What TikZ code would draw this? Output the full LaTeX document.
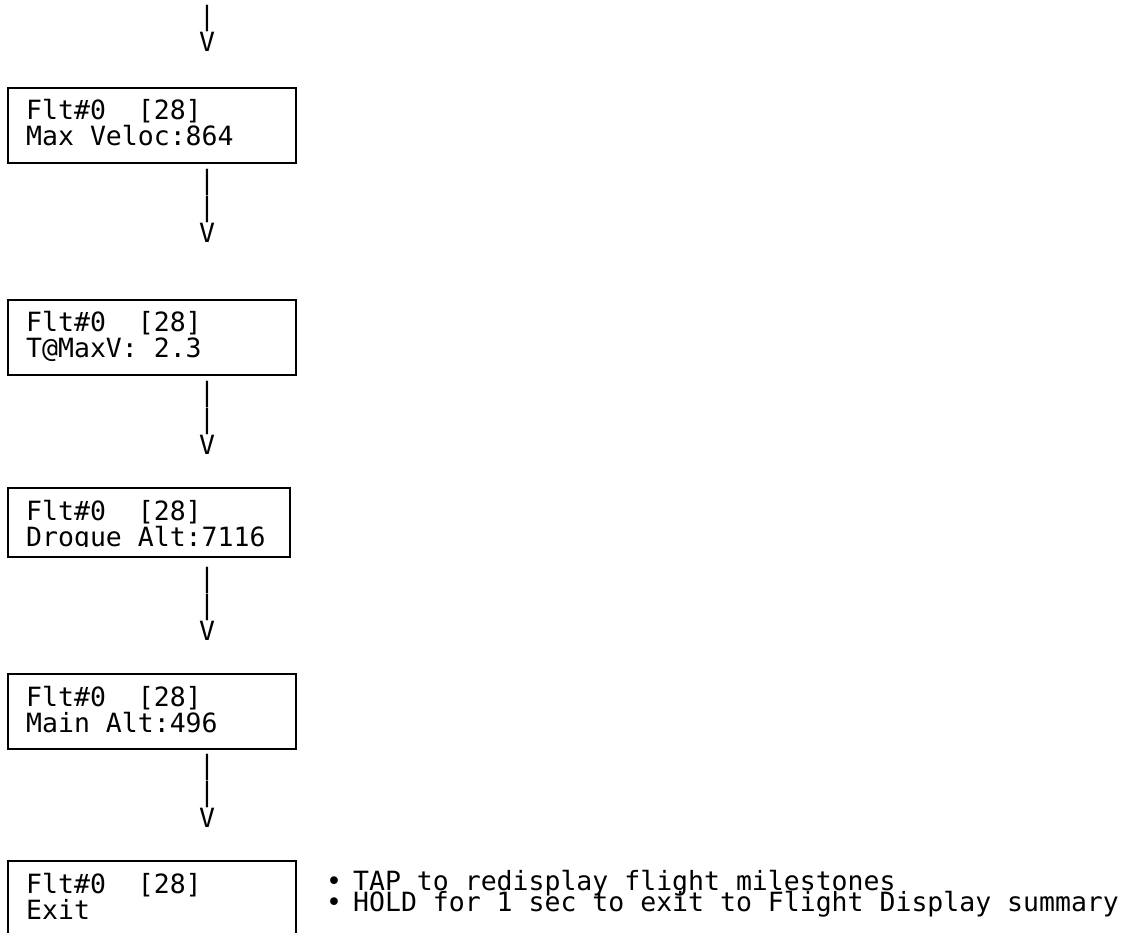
\documentclass[tikz,border=0pt]{standalone}
\usepackage{fontspec}
\usepackage{tikz}
\usetikzlibrary{positioning}
\newfontfamily\lcdfont{DejaVu Sans Mono}

\tikzset{
  screen/.style={draw, line width=2pt, anchor=north west, inner sep=0pt, minimum width=288pt, minimum height=75pt},
  screentext/.style={anchor=base west, inner sep=0pt, font=\lcdfont\fontsize{26.5}{26}\selectfont},
  asciiarrow/.style={anchor=south, inner sep=0pt, align=center,
    font=\lcdfont\fontsize{26.5}{26}\selectfont},
}

\begin{document}
\begin{tikzpicture}[x=1pt, y=-1pt]
    \useasboundingbox (0,0) rectangle (1130,933);
    \clip (0,0) rectangle (1130,933);
    % Screens
    \node[screen] (s1) at (7,87) {};
    \node[screen] (s2) at (7,299) {};
    \node[screen, minimum width=282pt, minimum height=69pt] (s3) at (7,487) {};
    \node[screen] (s4) at (7,673) {};
    \node[screen, minimum height=90pt] (s5) at (7,860) {};
    % Screen texts
    \node[screentext] (s1a) at ([xshift=19pt, yshift=-33pt]s1.north west) {Flt\#0~~[28]};
    \node[screentext] (s1b) at ([yshift=-26pt]s1a.base west) {Max Veloc:864};
    \node[screentext] (s2a) at ([xshift=19pt, yshift=-33pt]s2.north west) {Flt\#0~~[28]};
    \node[screentext] (s2b) at ([yshift=-26pt]s2a.base west) {T@MaxV:~2.3};
    \begin{scope}
        \clip (7,487) rectangle (289,546);
        \node[screentext] (s3a) at ([xshift=19pt, yshift=-33pt]s3.north west) {Flt\#0~~[28]};
        \node[screentext] (s3b) at ([yshift=-26pt]s3a.base west) {Drogue Alt:7116};
    \end{scope}
    \node[screentext] (s4a) at ([xshift=19pt, yshift=-33pt]s4.north west) {Flt\#0~~[28]};
    \node[screentext] (s4b) at ([yshift=-26pt]s4a.base west) {Main Alt:496};
    \node[screentext] (s5a) at ([xshift=19pt, yshift=-33pt]s5.north west) {Flt\#0~~[28]};
    \node[screentext] (s5b) at ([yshift=-26pt]s5a.base west) {Exit};
    % Ascii arrows
    \node[asciiarrow] (a0) at (207,52) {|\\V};
    \node[asciiarrow] (a1) at (207,243) {|\\|\\V};
    \node[asciiarrow] (a2) at (207,455) {|\\|\\V};
    \node[asciiarrow] (a3) at (207,641) {|\\|\\V};
    \node[asciiarrow] (a4) at (207,828) {|\\|\\V};
    % Notes
    \node[screentext] (tap) at (326,890) {•\hspace{11pt}TAP to redisplay flight milestones};
    \node[screentext] (hold) at (326,911) {•\hspace{11pt}HOLD for 1 sec to exit to Flight Display summary};
\end{tikzpicture}
\end{document}
